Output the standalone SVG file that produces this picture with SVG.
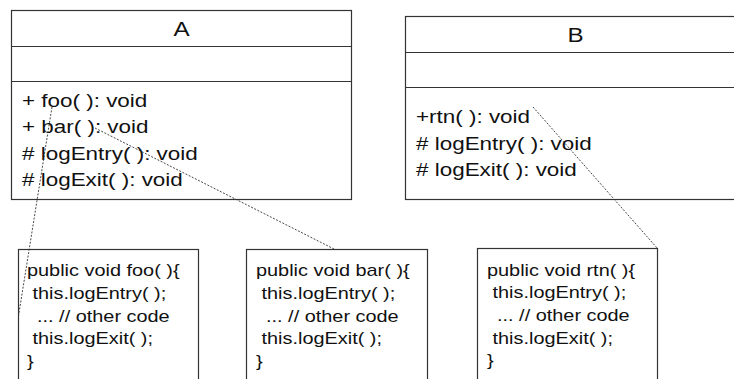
<svg xmlns="http://www.w3.org/2000/svg" width="734" height="379" viewBox="0 0 734 379">
  <style>
    .box { fill: #ffffff; stroke: #333333; stroke-width: 1.2; }
    .sep { stroke: #333333; stroke-width: 1.2; }
    .title { font-family: "Liberation Sans", Arial, sans-serif; font-size: 20.5px; fill: #111111; text-anchor: middle; }
    .member { font-family: "Liberation Sans", Arial, sans-serif; font-size: 18.7px; fill: #111111; }
    .code { font-family: "Liberation Sans", Arial, sans-serif; font-size: 17px; fill: #111111; }
    .link { fill: none; stroke: #333333; stroke-width: 0.9; stroke-dasharray: 2 1.5; }
  </style>

  <rect x="0" y="0" width="734" height="379" fill="#ffffff"/>

  <!-- class A -->
  <g id="classA">
    <rect class="box" x="11.5" y="10.5" width="340" height="189"/>
    <line class="sep" x1="11.5" y1="46.5" x2="351.5" y2="46.5"/>
    <line class="sep" x1="11.5" y1="81.5" x2="351.5" y2="81.5"/>
    <text class="title" transform="translate(181.5,36) scale(1.18,1)">A</text>
    <text class="member" transform="translate(22,106.5) scale(1.2,1)">+ foo( ): void</text>
    <text class="member" transform="translate(22,133) scale(1.2,1)">+ bar( ): void</text>
    <text class="member" transform="translate(22,159.5) scale(1.2,1)"># logEntry( ): void</text>
    <text class="member" transform="translate(22,186) scale(1.2,1)"># logExit( ): void</text>
  </g>

  <!-- class B (runs past the right edge) -->
  <g id="classB">
    <rect class="box" x="405.5" y="16.5" width="340" height="183"/>
    <line class="sep" x1="405.5" y1="52.5" x2="745.5" y2="52.5"/>
    <line class="sep" x1="405.5" y1="87.5" x2="745.5" y2="87.5"/>
    <text class="title" transform="translate(575.5,41.5) scale(1.18,1)">B</text>
    <text class="member" transform="translate(416,123) scale(1.2,1)">+rtn( ): void</text>
    <text class="member" transform="translate(416,149.5) scale(1.2,1)"># logEntry( ): void</text>
    <text class="member" transform="translate(416,176) scale(1.2,1)"># logExit( ): void</text>
  </g>

  <!-- note: foo body -->
  <g id="noteFoo">
    <rect class="box" x="18.5" y="249.5" width="180" height="140"/>
    <text class="code" transform="translate(27,276) scale(1.17,1)">public void foo( ){</text>
    <text class="code" transform="translate(32.5,298.5) scale(1.17,1)">this.logEntry( );</text>
    <text class="code" transform="translate(37,321.5) scale(1.17,1)">... // other code</text>
    <text class="code" transform="translate(32.5,344.3) scale(1.17,1)">this.logExit( );</text>
    <text class="code" transform="translate(27,366.7) scale(1.17,1)">}</text>
  </g>

  <!-- note: bar body -->
  <g id="noteBar">
    <rect class="box" x="246.5" y="249.5" width="181" height="140"/>
    <text class="code" transform="translate(256,276) scale(1.17,1)">public void bar( ){</text>
    <text class="code" transform="translate(261.5,298.5) scale(1.17,1)">this.logEntry( );</text>
    <text class="code" transform="translate(266,321.5) scale(1.17,1)">... // other code</text>
    <text class="code" transform="translate(261.5,344.3) scale(1.17,1)">this.logExit( );</text>
    <text class="code" transform="translate(256,366.7) scale(1.17,1)">}</text>
  </g>

  <!-- note: rtn body -->
  <g id="noteRtn">
    <rect class="box" x="477.5" y="248.5" width="180" height="140"/>
    <text class="code" transform="translate(487,275.7) scale(1.17,1)">public void rtn( ){</text>
    <text class="code" transform="translate(492.5,298.2) scale(1.17,1)">this.logEntry( );</text>
    <text class="code" transform="translate(497,321.2) scale(1.17,1)">... // other code</text>
    <text class="code" transform="translate(492.5,344) scale(1.17,1)">this.logExit( );</text>
    <text class="code" transform="translate(487,366.4) scale(1.17,1)">}</text>
  </g>

  <!-- note anchors -->
  <g id="connectors">
    <line class="link" x1="52" y1="107" x2="18.5" y2="316"/>
    <line class="link" x1="95" y1="128" x2="335" y2="249.5"/>
    <line class="link" x1="533" y1="107" x2="657.5" y2="248.5"/>
  </g>
</svg>
